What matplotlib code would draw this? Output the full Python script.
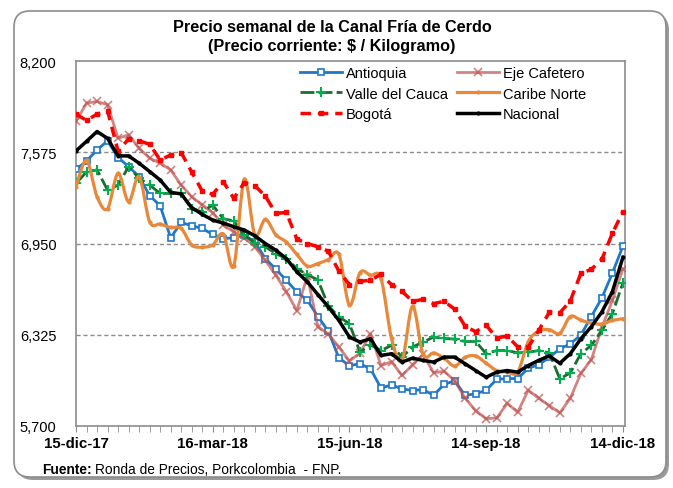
import matplotlib
matplotlib.use("Agg")
import matplotlib.pyplot as plt
from matplotlib.patches import FancyBboxPatch, PathPatch
from matplotlib.path import Path
from matplotlib.lines import Line2D
from matplotlib.ticker import FixedLocator, MultipleLocator, FuncFormatter
from matplotlib import font_manager as fm
import numpy as np

# ---------------- data ----------------
weeks = list(range(53))
tick_weeks = [0, 13, 26, 39, 52]
tick_labels = ["15-dic-17", "16-mar-18", "15-jun-18", "14-sep-18", "14-dic-18"]
y_ticks = [5700, 6325, 6950, 7575, 8200]

antioquia = [7458, 7515, 7591, 7653, 7539, 7477, 7408, 7278, 7209, 6989,
             7094, 7072, 7053, 7012, 6984, 6989, 7007, 6962, 6847, 6774,
             6698, 6618, 6561, 6450, 6348, 6165, 6114, 6126, 6092, 5959,
             5982, 5954, 5943, 5950, 5910, 5985, 6010, 5910, 5920, 5945,
             6020, 6025, 6025, 6095, 6120, 6170, 6228, 6263, 6323, 6450,
             6577, 6747, 6932]
eje_cafetero = [7786, 7911, 7923, 7900, 7671, 7694, 7602, 7534, 7500, 7454,
                7350, 7270, 7215, 7160, 7076, 7030, 6990, 6927, 6835, 6732,
                6620, 6490, 6730, 6380, 6330, 6240, 6145, 6200, 6332, 6114,
                6140, 6046, 6120, 6190, 6065, 6075, 6010, 5890, 5805, 5750,
                5755, 5855, 5795, 5945, 5890, 5840, 5790, 5890, 6060, 6155,
                6375, 6560, 6775]
valle = [7362, 7440, 7454, 7316, 7350, 7477, 7396, 7350, 7293, 7293,
         7293, 7185, 7168, 7213, 7120, 7105, 7007, 6955, 6927, 6881,
         6847, 6778, 6737, 6700, 6522, 6447, 6401, 6206, 6256, 6217,
         6252, 6172, 6241, 6275, 6309, 6300, 6295, 6279, 6279, 6195,
         6217, 6217, 6201, 6205, 6217, 6201, 6023, 6064, 6195, 6252,
         6355, 6469, 6680]
caribe = [7339, 7520, 7271, 7188, 7431, 7236, 7408, 7099, 7083, 7060,
          7053, 6940, 6925, 6940, 7015, 6795, 7390, 7010, 7115, 7010,
          6960, 6875, 6795, 6813, 6840, 6875, 6527, 6750, 6732, 6710,
          6300, 6149, 6520, 6190, 6200, 6165, 6110, 6170, 6180, 6130,
          6080, 6070, 6070, 6277, 6350, 6360, 6335, 6450, 6425, 6405,
          6398, 6423, 6435]
bogota = [7836, 7793, 7836, 7859, 7582, 7666, 7653, 7630, 7522, 7556,
          7573, 7440, 7309, 7287, 7374, 7259, 7367, 7346, 7275, 7156,
          7163, 6980, 6950, 6927, 6897, 6760, 6668, 6691, 6698, 6739,
          6668, 6622, 6554, 6567, 6538, 6554, 6500, 6383, 6346, 6390,
          6303, 6316, 6242, 6240, 6355, 6478, 6475, 6557, 6745, 6773,
          6842, 7020, 7168]
nacional = [7584, 7650, 7717, 7670, 7550, 7550, 7500, 7443, 7385, 7300,
            7290, 7195, 7150, 7110, 7090, 7065, 7042, 7003, 6950, 6904,
            6847, 6756, 6687, 6600, 6515, 6423, 6309, 6275, 6298, 6183,
            6195, 6138, 6165, 6149, 6138, 6172, 6172, 6126, 6080, 6034,
            6069, 6080, 6069, 6114, 6150, 6180, 6130, 6195, 6298, 6380,
            6481, 6620, 6855]

# ---------------- fonts ----------------
names = {f.name for f in fm.fontManager.ttflist}
narrow = [n for n in ["Liberation Sans Narrow", "DejaVu Sans Condensed"] if n in names]
if narrow:
    narrow_fam = narrow + ["Liberation Sans", "DejaVu Sans"]
    narrow_scale = 1.0
else:
    narrow_fam = ["Liberation Sans", "DejaVu Sans"]
    narrow_scale = 0.9
regular = ["Liberation Sans", "DejaVu Sans"]


def smooth_path(xs, ys):
    """Excel-like smoothed line: cubic Bezier through every data point."""
    x = np.asarray(xs, float)
    y = np.asarray(ys, float)
    n = len(x)
    verts = [(x[0], y[0])]
    codes = [Path.MOVETO]
    for i in range(n - 1):
        x0, y0 = (x[i - 1], y[i - 1]) if i > 0 else (x[i], y[i])
        x3, y3 = (x[i + 2], y[i + 2]) if i + 2 < n else (x[i + 1], y[i + 1])
        c1 = (x[i] + (x[i + 1] - x0) / 6, y[i] + (y[i + 1] - y0) / 6)
        c2 = (x[i + 1] - (x3 - x[i]) / 6, y[i + 1] - (y3 - y[i]) / 6)
        verts += [c1, c2, (x[i + 1], y[i + 1])]
        codes += [Path.CURVE4] * 3
    return Path(verts, codes)


# ---------------- figure ----------------
W, H = 673, 489
fig = plt.figure(figsize=(W / 100, H / 100), dpi=100)
fig.patch.set_facecolor("white")

shadow = FancyBboxPatch((17, 8), 652, 466, boxstyle="round,pad=0,rounding_size=16",
                        transform=None, facecolor="#9a9a9a", edgecolor="none", zorder=0)
frame = FancyBboxPatch((14, 11), 652, 466, boxstyle="round,pad=0,rounding_size=16",
                       transform=None, facecolor="white", edgecolor="#8c8c8c",
                       linewidth=1.2, zorder=1)
fig.patches.extend([shadow, frame])

ax = fig.add_axes([76 / W, 62 / H, 549 / W, 365 / H])
ax.set_zorder(2)
ax.patch.set_alpha(0)

ax.plot(weeks, antioquia, color="#1F78C8", lw=2.0, marker="s", ms=5,
        mfc="white", mec="#1F78C8", mew=1.2, label="Antioquia", zorder=3)
ax.plot(weeks, eje_cafetero, color="#C0504D", alpha=0.7, lw=2.0, marker="x", ms=6,
        mew=1.2, label="Eje Cafetero", zorder=3)
ax.plot(weeks, valle, color="#1E6B30", lw=2.0, ls=(0, (5, 1.5)), marker="+", ms=7,
        mec="#00B050", mew=1.5, label="Valle del Cauca", zorder=4)
car_color = "#E8883A"
ax.add_patch(PathPatch(smooth_path(weeks, caribe), fill=False, edgecolor=car_color,
                       lw=2.3, zorder=4, capstyle="round", joinstyle="round"))
ax.plot(weeks, caribe, ls="none", marker="o", ms=2, color=car_color, zorder=4)
car_handle = Line2D([], [], color=car_color, lw=2.3, marker="o", ms=2)
ax.plot(weeks, bogota, color="#FF0000", lw=2.5, ls=(0, (3, 2)), marker="s", ms=3.5,
        mfc="#FF0000", mec="#FF0000", label="Bogotá", zorder=5)
ax.plot(weeks, nacional, color="black", lw=2.5, marker="o", ms=2,
        label="Nacional", zorder=6)

ax.set_xlim(0, 52.2)
ax.set_ylim(5700, 8200)
ax.yaxis.set_major_locator(FixedLocator(y_ticks))
ax.yaxis.set_major_formatter(FuncFormatter(lambda v, p: f"{int(v):,}"))
ax.xaxis.set_major_locator(FixedLocator(tick_weeks))
ax.set_xticklabels(tick_labels)
ax.xaxis.set_minor_locator(MultipleLocator(1))

for v in y_ticks[1:-1]:
    ax.axhline(v, color="#8c8c8c", lw=1.0, ls=(0, (3, 2)), zorder=1)

for s in ax.spines.values():
    s.set_color("#8c8c8c")
    s.set_linewidth(1.2)

ax.tick_params(axis="y", length=0, pad=14, labelsize=10.5)
ax.tick_params(axis="x", which="both", direction="out", length=4, color="#8c8c8c",
               pad=3)
for lab in ax.get_yticklabels():
    lab.set_fontfamily(regular)
for lab in ax.get_xticklabels():
    lab.set_fontfamily(narrow_fam)
    lab.set_fontweight("bold")
    lab.set_fontsize(12 * narrow_scale)

h, l = ax.get_legend_handles_labels()
hmap = dict(zip(l, h))
hmap["Caribe Norte"] = car_handle
leg_order = ["Antioquia", "Valle del Cauca", "Bogotá",
             "Eje Cafetero", "Caribe Norte", "Nacional"]
leg = fig.legend([hmap[k] for k in leg_order], leg_order,
                 ncol=2, frameon=False, loc="upper left",
                 bbox_to_anchor=(300 / W, 1 - 67 / H), borderpad=0, borderaxespad=0,
                 handlelength=2.9, handletextpad=0.25, columnspacing=0.6,
                 labelspacing=0.45, prop={"family": regular, "size": 10.5})
leg.set_zorder(7)

fig.text(332 / W, 1 - 28 / H, "Precio semanal de la Canal Fría de Cerdo",
         ha="center", va="center", fontsize=13 * narrow_scale, fontweight="bold",
         family=narrow_fam)
fig.text(332 / W, 1 - 47 / H, "(Precio corriente: $ / Kilogramo)",
         ha="center", va="center", fontsize=13 * narrow_scale, fontweight="bold",
         family=narrow_fam)

t1 = fig.text(42 / W, 1 - 470 / H, "Fuente:", ha="left", va="center",
              fontsize=11 * narrow_scale, fontweight="bold", family=narrow_fam)
renderer = fig.canvas.get_renderer()
bb = t1.get_window_extent(renderer=renderer)
fig.text((bb.x1 + 3) / W, 1 - 470 / H, "Ronda de Precios, Porkcolombia  - FNP.",
         ha="left", va="center", fontsize=11 * narrow_scale, family=narrow_fam)

fig.savefig("out.png", dpi=100)
